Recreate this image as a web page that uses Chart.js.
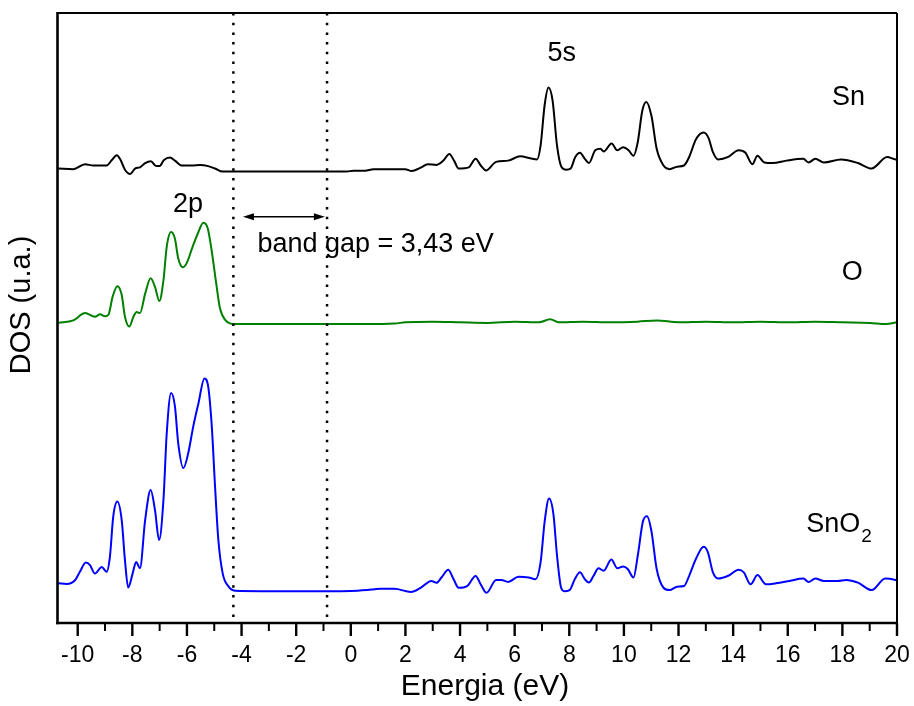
<!DOCTYPE html>
<html>
<head>
<meta charset="utf-8">
<title>DOS SnO2</title>
<script src="https://cdn.jsdelivr.net/npm/chart.js@4.4.1/dist/chart.umd.min.js"></script>
<style>
  html, body { margin: 0; padding: 0; background: #fff; }
  #wrap { width: 914px; height: 706px; }
</style>
</head>
<body>
<div id="wrap"><canvas id="dosChart"></canvas></div>
<script>
// Sn partial DOS (shifted up for display)
const snEnergy = [-10.71, -10.16, -9.73, -9.43, -8.94, -8.75, -8.57, -8.43, -8.27, -8.08,
  -7.90, -7.72, -7.53, -7.32, -7.13, -7.01, -6.84, -6.62, -6.44, -6.19,
  -5.82, -5.52, -5.22, -4.97, -4.69, -4.30, -2.0, -0.15, 0.10, 0.52,
  0.83, 1.99, 2.23, 2.54, 2.82, 3.14, 3.39, 3.61, 3.78, 3.95,
  4.32, 4.57, 4.76, 4.95, 5.32, 5.76, 6.20, 6.57, 6.82, 6.95,
  7.10, 7.24, 7.39, 7.55, 7.72, 7.89, 8.05, 8.22, 8.39, 8.57,
  8.72, 8.95, 9.14, 9.26, 9.55, 9.76, 9.97, 10.17, 10.35, 10.51,
  10.67, 10.82, 11.01, 11.20, 11.45, 11.67, 11.95, 12.20, 12.39, 12.64,
  12.92, 13.10, 13.26, 13.45, 13.82, 14.20, 14.45, 14.70, 14.89, 15.14,
  15.45, 15.95, 16.57, 16.76, 17.01, 17.32, 17.95, 18.57, 19.07, 19.64,
  19.95, 20.0];
const snDos = [74.5, 74.4, 75.2, 75.0, 75.0, 75.9, 76.7, 75.9, 74.3, 73.6,
  74.5, 74.7, 75.4, 75.7, 74.9, 74.9, 75.9, 76.3, 75.8, 75.0,
  75.0, 75.1, 74.9, 74.5, 74.0, 74.0, 74.0, 74.0, 74.15, 74.15,
  74.4, 74.4, 74.1, 74.6, 75.2, 75.1, 75.8, 76.9, 75.8, 74.5,
  74.7, 76.1, 75.0, 74.2, 75.6, 75.8, 76.5, 76.2, 76.0, 78.3,
  85.0, 87.8, 85.6, 78.3, 74.7, 74.3, 74.5, 76.4, 77.1, 76.1,
  75.4, 77.5, 77.75, 77.3, 78.6, 77.5, 78.0, 77.5, 76.6, 78.9,
  83.9, 85.4, 83.1, 77.75, 75.0, 74.4, 74.8, 75.0, 76.4, 79.3,
  80.4, 79.5, 77.2, 76.0, 76.4, 77.5, 77.1, 75.2, 76.6, 75.5,
  75.4, 75.8, 76.1, 75.5, 76.1, 75.5, 76.0, 75.4, 74.5, 76.4,
  76.0, 76.0];

// O partial DOS
const oEnergy = [-10.71, -10.16, -9.73, -9.37, -9.18, -9.00, -8.88, -8.72, -8.55, -8.39,
  -8.27, -8.11, -7.96, -7.84, -7.72, -7.53, -7.33, -7.17, -7.01, -6.86,
  -6.74, -6.58, -6.44, -6.32, -6.15, -6.01, -5.79, -5.58, -5.40, -5.24,
  -5.09, -4.93, -4.79, -4.60, -4.24,
  -1.0, 0.5, 1.6, 2.0, 3.0, 4.0, 5.0, 6.0, 6.9, 7.3,
  7.6, 8.5, 9.5, 10.5, 11.2, 12.0, 13.0, 14.0, 15.0, 16.0,
  17.0, 18.0, 19.0, 19.6, 20.0];
const oDos = [49.2, 49.6, 50.8, 50.2, 50.6, 50.3, 50.5, 53.5, 55.2, 53.8,
  50.2, 48.6, 50.2, 51.0, 50.8, 54.0, 56.5, 55.1, 52.8, 56.2,
  61.7, 64.1, 63.0, 59.8, 58.3, 59.0, 61.7, 64.1, 65.6, 64.7,
  60.9, 55.7, 51.6, 49.7, 49.0,
  49.0, 49.0, 49.1, 49.3, 49.4, 49.3, 49.2, 49.4, 49.3, 49.8,
  49.3, 49.4, 49.3, 49.4, 49.6, 49.3, 49.4, 49.3, 49.4, 49.3,
  49.4, 49.3, 49.2, 49.0, 49.3];

// total SnO2 DOS
const sno2Energy = [-10.71, -10.40, -10.10, -9.92, -9.70, -9.55, -9.37, -9.12, -8.94, -8.82,
  -8.70, -8.55, -8.39, -8.27, -8.15, -7.99, -7.86, -7.72, -7.53, -7.33,
  -7.17, -7.02, -6.86, -6.74, -6.58, -6.44, -6.32, -6.13, -5.95, -5.77,
  -5.58, -5.36, -5.22, -5.09, -4.97, -4.85, -4.69, -4.48, -4.24,
  -2.0, 0.0, 0.6, 1.07, 1.6, 2.2, 2.57, 2.95, 3.14, 3.32,
  3.57, 3.76, 3.95, 4.26, 4.57, 4.76, 4.97, 5.32, 5.51, 5.76,
  6.14, 6.51, 6.76, 6.95, 7.10, 7.26, 7.42, 7.55, 7.70, 7.82,
  8.01, 8.20, 8.39, 8.57, 8.72, 8.89, 9.07, 9.26, 9.54, 9.76,
  9.97, 10.14, 10.35, 10.51, 10.70, 10.85, 11.01, 11.20, 11.45, 11.67,
  11.95, 12.20, 12.39, 12.64, 12.92, 13.07, 13.26, 13.45, 13.82, 14.20,
  14.39, 14.64, 14.89, 15.20, 15.57, 16.07, 16.57, 16.76, 17.01, 17.32,
  17.82, 18.14, 18.57, 19.07, 19.57, 19.95, 20.0];
const sno2Dos = [6.5, 6.4, 7.0, 8.4, 9.9, 9.5, 8.1, 9.2, 8.4, 10.9,
  17.4, 19.9, 16.9, 10.3, 5.8, 8.1, 10.0, 9.0, 16.9, 21.8,
  18.5, 13.6, 20.2, 31.1, 37.7, 35.5, 29.5, 25.4, 27.9, 32.2,
  36.0, 40.1, 38.7, 32.2, 22.3, 13.6, 8.1, 6.0, 5.3,
  5.2, 5.25, 5.4, 5.6, 5.6, 5.1, 5.8, 6.9, 6.6, 7.46,
  8.75, 7.2, 5.78, 6.06, 7.7, 6.3, 4.94, 7.06, 7.06, 6.73,
  7.57, 7.46, 7.18, 9.97, 16.7, 20.4, 17.8, 11.1, 5.78, 5.22,
  5.39, 7.18, 8.3, 7.18, 6.62, 7.74, 8.97, 8.58, 10.42, 8.97,
  9.25, 8.86, 7.46, 11.1, 16.7, 17.5, 15.0, 8.86, 5.78, 5.39,
  5.95, 6.06, 7.74, 10.53, 12.49, 11.65, 8.3, 7.29, 7.74, 8.75,
  8.3, 6.34, 7.85, 6.34, 6.5, 6.9, 7.29, 6.73, 7.29, 6.9,
  6.9, 7.06, 6.62, 5.39, 7.29, 7.06, 7.0];

// band edges (valence top, conduction bottom) in eV
const gapEdges = [-4.30, -0.87];
const gapLabel = 'band gap = 3,43 eV';

const xMajorTicks = [-10, -8, -6, -4, -2, 0, 2, 4, 6, 8, 10, 12, 14, 16, 18, 20];
const xMinorTicks = [-9, -7, -5, -3, -1, 1, 3, 5, 7, 9, 11, 13, 15, 17, 19];

const xTitle = 'Energia (eV)';
const yTitle = 'DOS (u.a.)';

const FONT = "'Liberation Sans', Arial, Helvetica, sans-serif";

// text placed in data coordinates
const notes = [
  { text: '5s', x: 7.72, y: 93.3, align: 'center' },
  { text: 'Sn', x: 18.22, y: 86.1, align: 'center' },
  { text: '2p', x: -5.96, y: 68.6, align: 'center' },
  { text: gapLabel, x: -3.42, y: 62.0, align: 'left' },
  { text: 'O', x: 18.36, y: 57.4, align: 'center' },
  { text: 'SnO', sub: '2', x: 16.68, y: 16.2, align: 'left' }
];
const arrowSpan = { from: -3.95, to: -0.95, y: 66.6 };

function toPoints(xs, ys) {
  return xs.map((x, i) => ({ x: x, y: ys[i] }));
}

function line(ctx, x1, y1, x2, y2) {
  ctx.beginPath();
  ctx.moveTo(x1, y1);
  ctx.lineTo(x2, y2);
  ctx.stroke();
}

function arrowHead(ctx, x, y, dir) {
  ctx.beginPath();
  ctx.moveTo(x, y);
  ctx.lineTo(x - dir * 11, y - 3.5);
  ctx.lineTo(x - dir * 11, y + 3.5);
  ctx.closePath();
  ctx.fill();
}

// frame, tick marks, axis titles, arrow and peak labels
const decorations = {
  id: 'decorations',
  afterDraw(chart) {
    const { ctx, chartArea: a, scales: { x, y } } = chart;
    ctx.save();
    ctx.strokeStyle = '#000';
    ctx.fillStyle = '#000';

    ctx.lineWidth = 2;
    line(ctx, a.left, a.top, a.right, a.top);
    line(ctx, a.right, a.top, a.right, a.bottom);
    ctx.lineWidth = 2.6;
    line(ctx, a.left, a.top - 1, a.left, a.bottom + 1.3);
    line(ctx, a.left - 1.3, a.bottom, a.right + 1, a.bottom);

    ctx.lineWidth = 2.4;
    xMajorTicks.forEach(v => {
      const px = x.getPixelForValue(v);
      line(ctx, px, a.bottom, px, a.bottom + 13);
    });
    ctx.lineWidth = 2;
    xMinorTicks.forEach(v => {
      const px = x.getPixelForValue(v);
      line(ctx, px, a.bottom, px, a.bottom + 8);
    });

    // axis titles
    ctx.textBaseline = 'middle';
    ctx.textAlign = 'center';
    ctx.font = '30px ' + FONT;
    ctx.fillText(xTitle, 485, 687);
    ctx.save();
    ctx.translate(22, 305);
    ctx.rotate(-Math.PI / 2);
    ctx.font = '29px ' + FONT;
    ctx.fillText(yTitle, 0, 0);
    ctx.restore();

    // double arrow across the gap
    const ay = y.getPixelForValue(arrowSpan.y);
    const ax1 = x.getPixelForValue(arrowSpan.from);
    const ax2 = x.getPixelForValue(arrowSpan.to);
    ctx.lineWidth = 1.5;
    line(ctx, ax1 + 4, ay, ax2 - 4, ay);
    arrowHead(ctx, ax1, ay, -1);
    arrowHead(ctx, ax2, ay, 1);

    notes.forEach(n => {
      const px = x.getPixelForValue(n.x);
      const py = y.getPixelForValue(n.y);
      ctx.font = '27px ' + FONT;
      ctx.textAlign = n.align;
      ctx.fillText(n.text, px, py);
      if (n.sub) {
        const w = ctx.measureText(n.text).width;
        ctx.font = '19px ' + FONT;
        ctx.textAlign = 'left';
        ctx.fillText(n.sub, px + w + 1, py + 13);
      }
    });
    ctx.restore();
  }
};

const gapLine = e => ({
  data: [{ x: e, y: 100 }, { x: e, y: 0 }],
  borderColor: '#000',
  borderWidth: 2.5,
  borderDash: [2.5, 7.2],
  pointRadius: 0
});

const curve = (xs, ys, color) => ({
  data: toPoints(xs, ys),
  borderColor: color,
  borderWidth: 2,
  pointRadius: 0,
  cubicInterpolationMode: 'monotone'
});

new Chart(document.getElementById('dosChart'), {
  type: 'line',
  data: {
    datasets: [
      gapLine(gapEdges[0]),
      gapLine(gapEdges[1]),
      curve(snEnergy, snDos, '#000000'),
      curve(oEnergy, oDos, '#008000'),
      curve(sno2Energy, sno2Dos, '#0000ff')
    ]
  },
  options: {
    responsive: true,
    maintainAspectRatio: false,
    animation: false,
    layout: { padding: { top: 13, right: 17, left: 0, bottom: 0 } },
    plugins: { legend: { display: false }, tooltip: { enabled: false } },
    scales: {
      x: {
        type: 'linear',
        min: -10.74,
        max: 20,
        grid: { display: false, drawTicks: false },
        border: { display: false },
        afterBuildTicks: scale => { scale.ticks = xMajorTicks.map(v => ({ value: v })); },
        afterFit: scale => {
          scale.height = 83;
          scale.paddingLeft = 0;
          scale.paddingRight = 0;
        },
        ticks: {
          color: '#000',
          padding: 19,
          maxRotation: 0,
          autoSkip: false,
          font: { family: FONT, size: 23 },
          callback: v => String(v)
        }
      },
      y: {
        min: 0,
        max: 100,
        grid: { display: false, drawTicks: false },
        border: { display: false },
        ticks: { display: false },
        afterFit: scale => { scale.width = 57.5; }
      }
    }
  },
  plugins: [decorations]
});
</script>
</body>
</html>
